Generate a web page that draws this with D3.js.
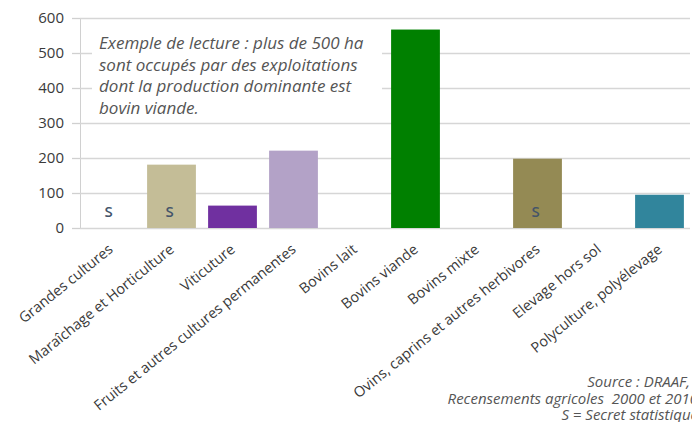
<!DOCTYPE html>
<html>
<head>
<meta charset="utf-8">
<script src="https://cdn.jsdelivr.net/npm/d3@7"></script>
<style>
  body { margin: 0; background: #fff; }
  text { font-family: "Open Sans", sans-serif; }
</style>
</head>
<body>
<svg width="692" height="422"></svg>
<script>
// data (surface in ha by dominant production)
const categories = ['Grandes cultures', 'Maraîchage et Horticulture', 'Viticuture',
  'Fruits et autres cultures permanentes', 'Bovins lait', 'Bovins viande', 'Bovins mixte',
  'Ovins, caprins et autres herbivores', 'Elevage hors sol', 'Polyculture, polyélevage'];
const values = [0, 181, 64, 221, 0, 567, 0, 198, 0, 95];
const secret = [true, true, false, false, false, false, false, true, false, false];
const barColors = ['#c4bd97', '#c4bd97', '#7030a0', '#b3a2c7', '#4f81bd', '#008000',
  '#4f81bd', '#948a54', '#4f81bd', '#31859c'];
const yTicks = [0, 100, 200, 300, 400, 500, 600];
const noteLines = ['Exemple de lecture : plus de 500 ha', 'sont occupés par des exploitations',
  'dont la production dominante est', 'bovin viande.'];
const sourceLines = ['Source : DRAAF,', 'Recensements agricoles  2000 et 2010', 'S = Secret statistique'];

const svg = d3.select('svg');
const width = +svg.attr('width');

const margin = {top: 18, left: 80, right: 2};
const plotBottom = 228;

const data = categories.map((c, i) => ({cat: c, value: values[i], secret: secret[i], color: barColors[i]}));

const xScale = d3.scaleBand()
  .domain(categories)
  .range([margin.left, width - margin.right])
  .paddingInner(0.2)
  .paddingOuter(0.1);

const yScale = d3.scaleLinear()
  .domain([0, 600])
  .range([plotBottom, margin.top]);

// gridlines + y axis
const yAxis = d3.axisLeft(yScale)
  .tickValues(yTicks)
  .tickSize(-(width - margin.right - margin.left))
  .tickPadding(16)
  .tickSizeOuter(0);

const yAxisG = svg.append('g')
  .attr('transform', `translate(${margin.left},0)`)
  .call(yAxis);
yAxisG.select('.domain').attr('stroke', '#d0d0d0');
yAxisG.selectAll('.tick line').attr('stroke', '#d6d6d6').attr('stroke-width', 1.3);
yAxisG.selectAll('.tick text')
  .attr('fill', '#3a3a3a')
  .style('font-size', '15px')
  .style('font-family', '"Open Sans", sans-serif');
// outer tick marks
yAxisG.selectAll('.tick').append('line')
  .attr('x1', -8).attr('x2', 0)
  .attr('stroke', '#d0d0d0').attr('stroke-width', 1.3);

// note box (hides gridlines under it)
svg.append('rect')
  .attr('x', 92).attr('y', 30)
  .attr('width', 290).attr('height', 86)
  .attr('fill', '#fff');

svg.append('g').selectAll('text')
  .data(noteLines)
  .join('text')
    .attr('x', 99)
    .attr('y', (d, i) => 49 + i * 21.5)
    .attr('fill', '#555')
    .style('font-style', 'italic')
    .style('font-size', '17px')
    .text(d => d);

// bars
svg.append('g').selectAll('rect')
  .data(data.filter(d => d.value > 0))
  .join('rect')
    .attr('x', d => xScale(d.cat))
    .attr('y', d => yScale(d.value))
    .attr('width', xScale.bandwidth())
    .attr('height', d => yScale(0) - yScale(d.value))
    .attr('fill', d => d.color);

// secret labels
svg.append('g').selectAll('text')
  .data(data.filter(d => d.secret))
  .join('text')
    .attr('x', d => xScale(d.cat) + xScale.bandwidth() / 2 - 2)
    .attr('y', 217)
    .attr('text-anchor', 'middle')
    .attr('fill', '#44546a')
    .style('font-size', '15px')
    .style('font-weight', 600)
    .text('S');

// category labels
svg.append('g').selectAll('text')
  .data(categories)
  .join('text')
    .attr('transform', d => `translate(${xScale(d) + xScale.bandwidth() / 2 - 3},243) rotate(-39)`)
    .attr('text-anchor', 'end')
    .attr('dy', '0.71em')
    .attr('fill', '#3a3a3a')
    .style('font-size', '14.5px')
    .text(d => d);

// source
svg.append('g').selectAll('text')
  .data(sourceLines)
  .join('text')
    .attr('x', (d, i) => i === 0 ? 690 : 698)
    .attr('y', (d, i) => 387 + i * 16.5)
    .attr('text-anchor', 'end')
    .attr('xml:space', 'preserve')
    .attr('fill', '#555')
    .style('font-style', 'italic')
    .style('white-space', 'pre')
    .style('font-size', '15px')
    .text(d => d);
</script>
</body>
</html>
